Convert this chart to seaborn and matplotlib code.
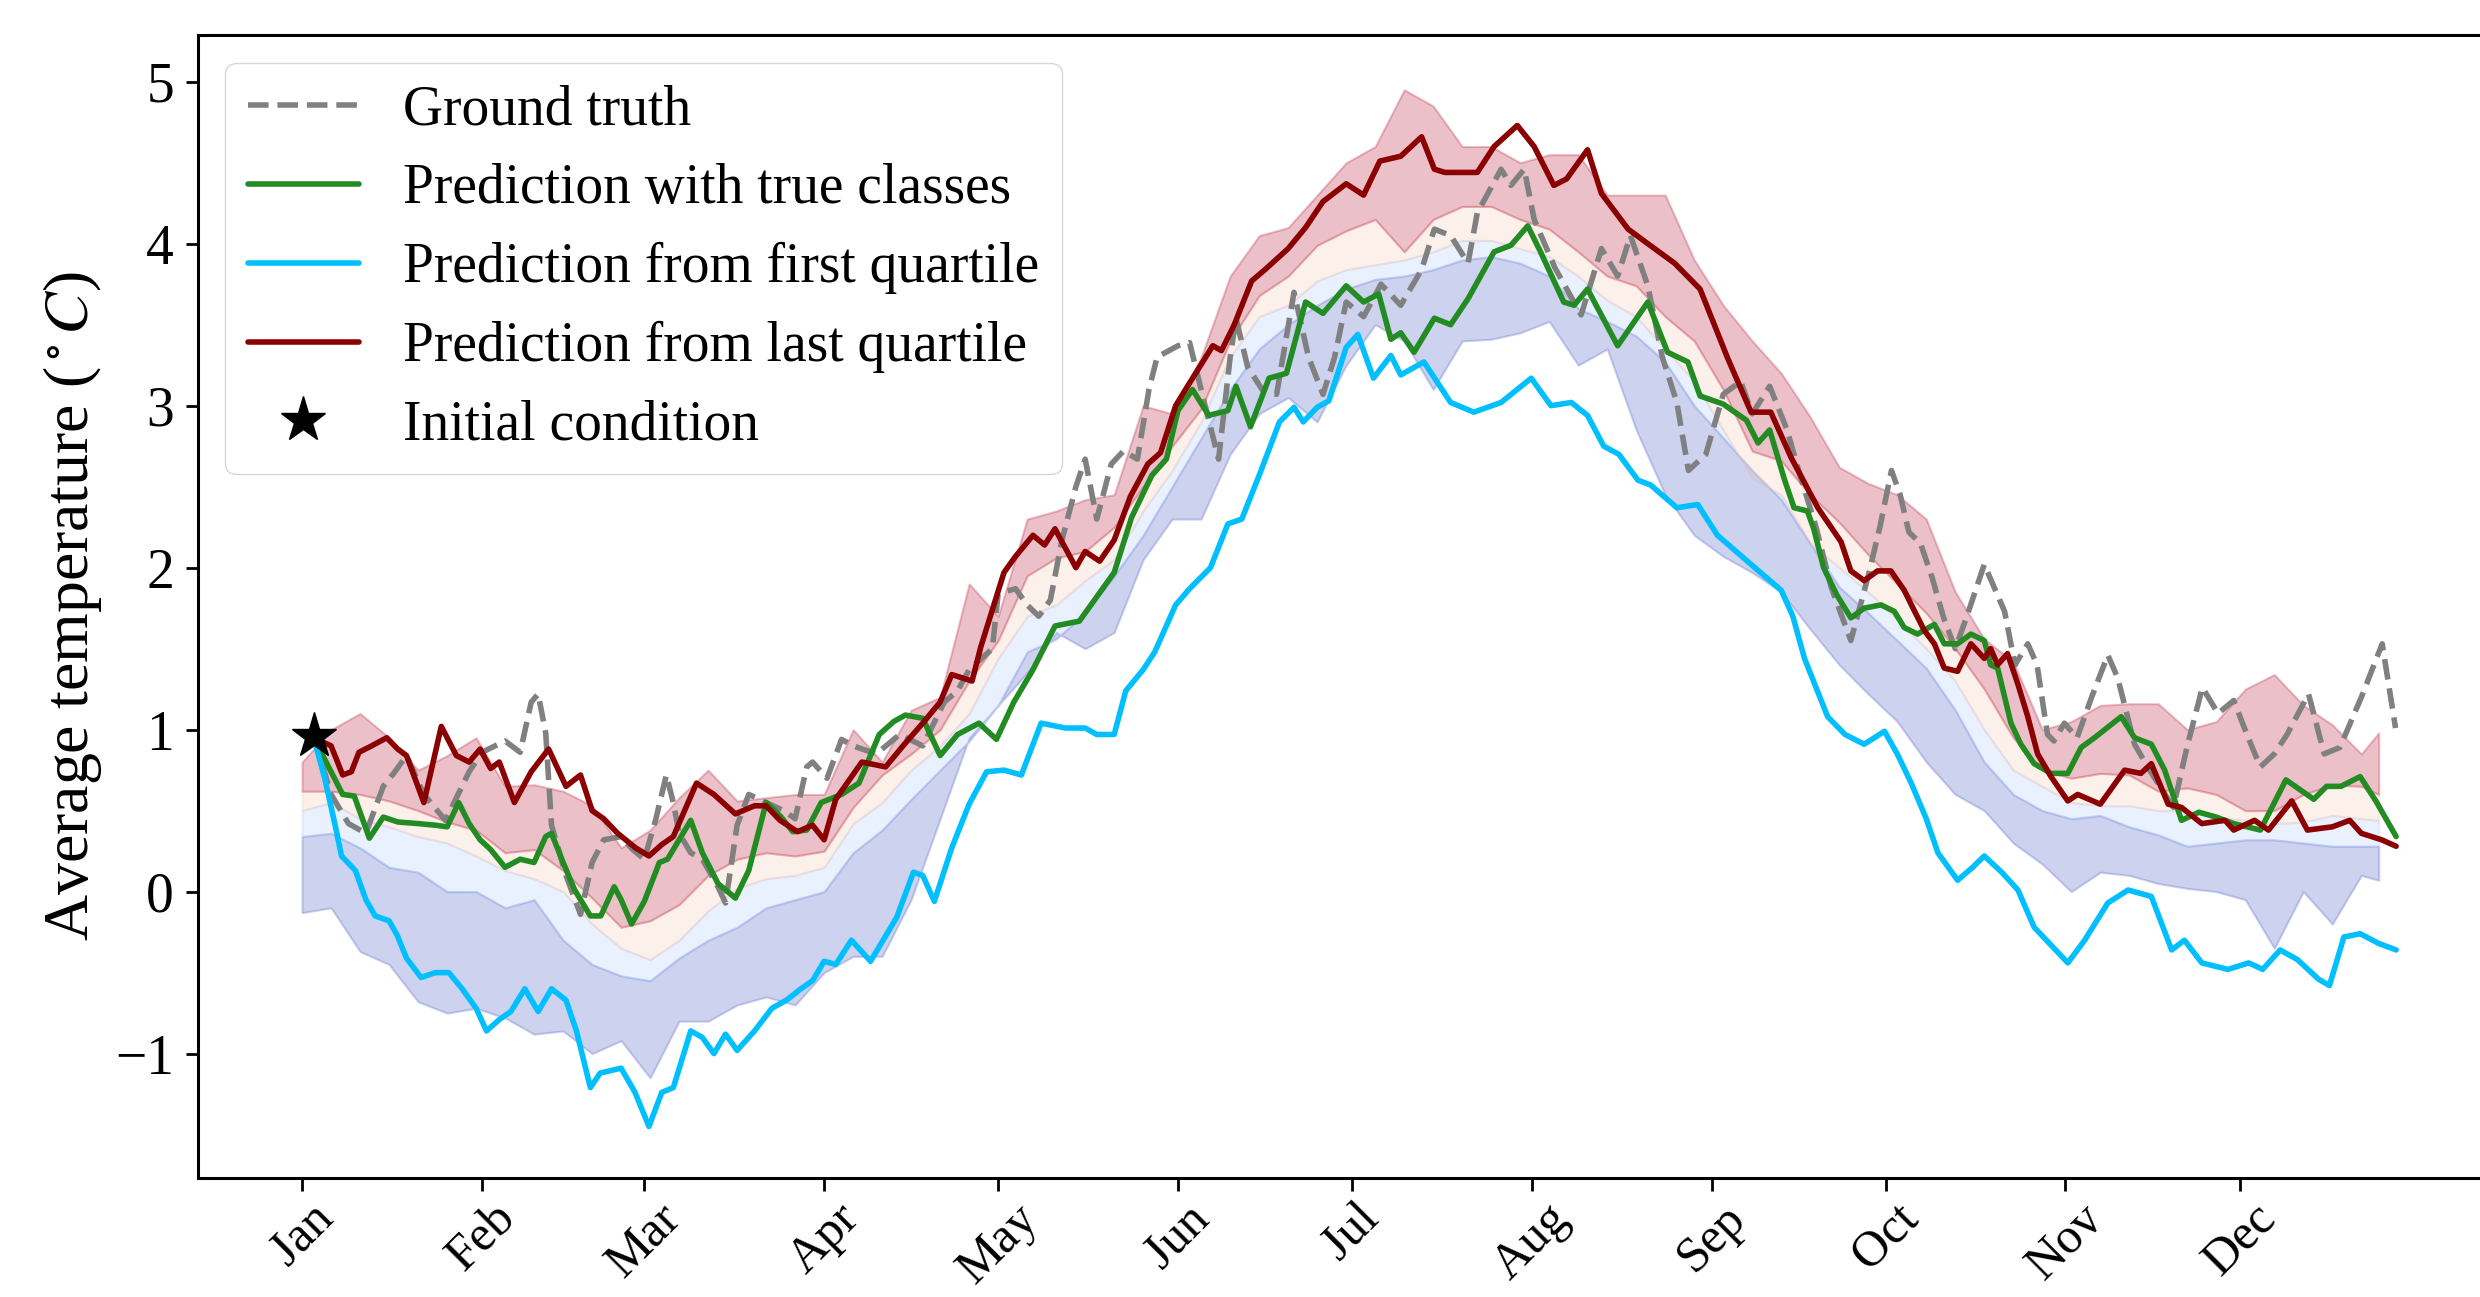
import matplotlib
matplotlib.use("Agg")
import matplotlib.pyplot as plt
import seaborn as sns
import pandas as pd

# ---------------- data ----------------
MONTHS = ["Jan", "Feb", "Mar", "Apr", "May", "Jun",
          "Jul", "Aug", "Sep", "Oct", "Nov", "Dec"]
MONTH_START_DAYS = [0, 31, 59, 90, 120, 151, 181, 212, 243, 273, 304, 334]
Y_TICKS = [-1, 0, 1, 2, 3, 4, 5]

LABELS = ["Ground truth", "Prediction with true classes",
          "Prediction from first quartile", "Prediction from last quartile",
          "Initial condition"]

INIT_DAY = [2]
INIT_VAL = [0.96]

GT_DAYS = [2, 5, 8, 11, 14, 16, 18, 21, 24.7, 28.8, 31, 35, 37.6, 39.5, 40.7, 42, 43, 45.5, 48, 50,
           52, 55, 57, 59, 61, 62.8, 64, 65, 67, 69, 71.7, 73, 75, 77, 80, 83, 85, 87, 88, 90.5,
           93, 95, 99, 103, 107, 110.7, 113, 115, 119, 120, 123, 125, 127, 129, 131, 133.4, 135, 137,
           139.5, 141.6, 144, 146, 147.4, 151, 153, 155.4, 158, 160, 161, 163, 165.5, 168, 171,
           173.5, 176, 178, 180, 183, 186, 189.4, 193, 195.2, 198, 201, 202.6, 206.7, 208.4, 210.7,
           212.4, 216, 220.5, 224, 226.8, 229, 232, 234.5, 237, 239, 242, 245, 248, 250, 253, 256,
           258, 261, 263.6, 267, 270, 272, 274, 275.5, 277, 279, 281, 283, 285, 287, 290, 293.5,
           295.3, 297.5, 299.1, 300.9, 302, 303.8, 306, 308.5, 311.3, 313, 315.9, 318.5, 322.6,
           325, 327.6, 330.3, 333, 335.5, 337.6, 340, 342.2, 345.9, 348.6, 351.3, 355, 358.6, 360.9]
GT_VALS = [0.96, 0.6, 0.42, 0.36, 0.65, 0.74, 0.84, 0.6, 0.44, 0.74, 0.86, 0.93, 0.86, 1.17, 1.22,
           0.98, 0.41, 0.1, -0.14, 0.18, 0.32, 0.34, 0.26, 0.2, 0.45, 0.72, 0.55, 0.36, 0.24, 0.2,
           0.03, -0.07, 0.41, 0.6, 0.55, 0.5, 0.45, 0.77, 0.8, 0.7, 0.94, 0.9, 0.85, 0.97, 0.9,
           1.17, 1.24, 1.37, 1.5, 1.84, 1.87, 1.77, 1.7, 1.8, 2.17, 2.5, 2.67, 2.3, 2.64, 2.72,
           2.67, 3.1, 3.3, 3.37, 3.39, 3.04, 2.67, 3.3, 3.54, 3.24, 3.1, 3.07, 3.7, 3.3, 3.07,
           3.3, 3.64, 3.55, 3.75, 3.62, 3.84, 4.09, 4.05, 3.88, 4.19, 4.46, 4.36, 4.46, 4.15,
           3.85, 3.56, 3.97, 3.8, 4.05, 3.74, 3.3, 3.02, 2.6, 2.7, 3.07, 3.15, 2.95, 3.12, 2.85,
           2.6, 2.25, 1.88, 1.55, 1.95, 2.25, 2.6, 2.45, 2.22, 2.15, 1.94, 1.69, 1.5, 1.7, 2.02,
           1.73, 1.4, 1.53, 1.4, 0.97, 0.93, 1.04, 0.95, 1.2, 1.46, 1.32, 0.91, 0.75, 0.52,
           0.9, 1.26, 1.1, 1.18, 0.95, 0.77, 0.85, 0.97, 1.22, 0.85, 0.89, 1.2, 1.53, 1.01]

TRUE_DAYS = [2, 5, 7, 9, 11.6, 14, 16.5, 20, 23, 25, 27, 28.8, 30.7, 32.5, 35, 37.6, 40, 42, 43, 45,
             47, 49.7, 51.5, 53.8, 55, 56.8, 59, 61.6, 63, 67, 69, 71.7, 74.7, 77, 80, 82.6, 84.6,
             87, 89.5, 93, 96, 99.5, 102, 104, 107, 110, 113, 116.7, 119.7, 122.7, 126, 129.8, 134,
             136, 140, 143, 146.5, 149, 151, 153.5, 156.3, 159.6, 161, 163.5, 166.7, 169.7, 173,
             176, 180, 183, 185.6, 187.7, 189.4, 191.7, 195.2, 198, 201, 205.5, 208.4, 211.3,
             213.5, 217.5, 219.3, 221.6, 226.8, 232, 235.4, 238.9, 241, 245, 249, 251, 253, 255.5,
             257.2, 259.5, 260.6, 262.3, 264.6, 267, 269.3, 272.2, 274.5, 276.2, 278.5, 281.4,
             283.1, 285.4, 287.7, 290, 291.1, 292.3, 294.6, 296.3, 298.6, 301.5, 304.4, 306.7, 309,
             313.6, 315.9, 318.8, 321.1, 324, 327, 330, 333, 337.6, 342, 346.8, 349, 351.5, 354.8,
             357.5, 361]
TRUE_VALS = [0.95, 0.74, 0.6, 0.59, 0.33, 0.46, 0.43, 0.42, 0.41, 0.4, 0.55, 0.42, 0.32, 0.26,
             0.15, 0.2, 0.18, 0.34, 0.36, 0.18, 0.01, -0.15, -0.15, 0.03, -0.05, -0.2, -0.06, 0.18,
             0.2, 0.44, 0.24, 0.05, -0.04, 0.13, 0.55, 0.46, 0.37, 0.38, 0.55, 0.6, 0.67, 0.97,
             1.05, 1.09, 1.07, 0.84, 0.97, 1.04, 0.94, 1.17, 1.37, 1.64, 1.67, 1.77, 1.97, 2.31,
             2.57, 2.67, 2.97, 3.1, 2.94, 2.97, 3.12, 2.87, 3.17, 3.2, 3.64, 3.57, 3.74, 3.64,
             3.69, 3.41, 3.45, 3.33, 3.54, 3.5, 3.66, 3.95, 3.99, 4.11, 3.95, 3.64, 3.62, 3.72,
             3.37, 3.64, 3.33, 3.27, 3.06, 3.01, 2.91, 2.77, 2.85, 2.55, 2.37, 2.35, 2.24, 2.0,
             1.83, 1.69, 1.75, 1.77, 1.73, 1.63, 1.59, 1.65, 1.53, 1.53, 1.59, 1.55, 1.4, 1.38,
             1.04, 0.91, 0.79, 0.73, 0.73, 0.89, 0.95, 1.08, 0.95, 0.91, 0.75, 0.44, 0.49, 0.46,
             0.42, 0.38, 0.69, 0.57, 0.65, 0.65, 0.71, 0.56, 0.34]

FIRST_DAYS = [2, 3.9, 5.7, 6.8, 9.2, 11, 12.6, 15, 16.4, 18, 20.5, 23, 25.3, 27.6, 30, 31.8, 34, 36,
              38.4, 40.7, 43, 45.5, 47.3, 49.7, 51.4, 55, 57.4, 59.8, 62, 64, 67, 69, 71, 73, 75,
              78, 81, 83.5, 86, 88, 90, 92, 94.7, 98, 102.5, 105.4, 107, 109, 112, 115, 118, 121,
              124, 127.4, 131.6, 135, 137, 140, 142, 145, 147, 150.6, 153, 156.6, 159.6, 162, 165,
              168.5, 171, 172.6, 175, 177, 180, 182, 184.7, 187.7, 189.4, 193.4, 198, 202, 206.7,
              211.9, 215.3, 218.8, 221.6, 224.4, 227, 230.3, 232.5, 237, 240.6, 244, 249.8, 255,
              257, 259, 263, 266, 269.3, 272.8, 275, 277.4, 280, 282, 285.4, 288, 290, 293, 295.8,
              298.6, 301.5, 304.4, 307.3, 311.3, 314.8, 318.8, 322.3, 324.5, 327.5, 332, 335.6,
              338, 341, 344, 347.6, 349.5, 352, 354.8, 358, 361]
FIRST_VALS = [0.95, 0.7, 0.41, 0.22, 0.13, -0.05, -0.15, -0.18, -0.27, -0.41, -0.53, -0.5, -0.5,
              -0.6, -0.72, -0.86, -0.79, -0.74, -0.6, -0.74, -0.6, -0.67, -0.86, -1.21, -1.12,
              -1.09, -1.24, -1.45, -1.24, -1.21, -0.86, -0.9, -1.0, -0.88, -0.98, -0.86, -0.72,
              -0.67, -0.6, -0.55, -0.43, -0.45, -0.3, -0.43, -0.16, 0.12, 0.1, -0.06, 0.27, 0.54,
              0.74, 0.75, 0.72, 1.04, 1.01, 1.01, 0.97, 0.97, 1.24, 1.37, 1.48, 1.77, 1.87, 2.0,
              2.27, 2.3, 2.57, 2.9, 2.99, 2.9, 2.99, 3.03, 3.36, 3.44, 3.17, 3.31, 3.19, 3.27,
              3.02, 2.96, 3.02, 3.17, 3.0, 3.02, 2.94, 2.75, 2.7, 2.54, 2.51, 2.37, 2.39, 2.2,
              2.02, 1.86, 1.7, 1.44, 1.08, 0.97, 0.91, 0.99, 0.85, 0.67, 0.45, 0.24, 0.07, 0.15,
              0.22, 0.12, 0.01, -0.22, -0.33, -0.44, -0.3, -0.07, 0.01, -0.03, -0.36, -0.3,
              -0.44, -0.48, -0.44, -0.48, -0.36, -0.42, -0.54, -0.58, -0.28, -0.26, -0.32, -0.36]

LAST_DAYS = [2, 5, 7, 8.5, 9.8, 12, 14.6, 16.5, 18, 21, 24, 26.6, 28.8, 30.7, 32.5, 34, 36.6, 39.5,
             42.5, 45.5, 48, 50, 52, 54.4, 57.5, 59.8, 62, 64, 68, 71, 74.7, 78, 80, 82.4, 85.4,
             88, 90, 92, 96.5, 100.6, 103.6, 107, 110, 112, 115.5, 117, 121, 123, 126, 128, 129.8,
             133.4, 135, 137.5, 140, 142.8, 145.8, 148, 150.6, 153, 157, 158.5, 160.7, 163.7, 166,
             170, 173, 176, 180, 183, 185.8, 189.4, 193, 195.2, 197, 202.6, 205.5, 209.5, 212.4,
             215.8, 218, 221.6, 224, 228.6, 232, 236.6, 241, 245.8, 249.8, 253.2, 256.7, 261.3,
             265.3, 267, 269.3, 271.6, 273.9, 276.2, 278, 279.7, 281.4, 283.1, 285.4, 287.7, 290,
             291.1, 292.3, 294, 295.8, 297.5, 299.2, 301.5, 304.4, 306.1, 310, 314.2, 317, 318.8,
             321.7, 324, 327.5, 331.5, 333, 336.6, 339, 343, 345.7, 350, 353, 355, 358.5, 361]
LAST_VALS = [0.95, 0.9, 0.72, 0.74, 0.86, 0.9, 0.95, 0.88, 0.84, 0.55, 1.02, 0.84, 0.8, 0.88,
             0.76, 0.8, 0.55, 0.74, 0.88, 0.65, 0.72, 0.5, 0.45, 0.36, 0.27, 0.22, 0.29, 0.34,
             0.67, 0.6, 0.48, 0.53, 0.53, 0.44, 0.37, 0.41, 0.32, 0.57, 0.8, 0.77, 0.9, 1.04,
             1.17, 1.34, 1.3, 1.51, 1.97, 2.07, 2.2, 2.14, 2.24, 2.0, 2.1, 2.04, 2.17, 2.44, 2.64,
             2.71, 3.0, 3.14, 3.37, 3.34, 3.5, 3.77, 3.84, 3.97, 4.1, 4.26, 4.37, 4.3, 4.51, 4.54,
             4.66, 4.46, 4.44, 4.44, 4.6, 4.73, 4.6, 4.36, 4.4, 4.58, 4.31, 4.09, 4.0, 3.88, 3.72,
             3.29, 2.96, 2.96, 2.68, 2.37, 2.16, 1.98, 1.92, 1.98, 1.98, 1.86, 1.73, 1.61,
             1.53, 1.38, 1.36, 1.53, 1.44, 1.5, 1.4, 1.47, 1.28, 1.08, 0.85, 0.71, 0.56, 0.6,
             0.54, 0.75, 0.73, 0.79, 0.54, 0.52, 0.42, 0.44, 0.38, 0.44, 0.38, 0.56, 0.38, 0.4,
             0.44, 0.36, 0.32, 0.28]

BAND_DAYS = [0, 5, 10, 15, 20, 25, 30, 35, 40, 45, 50, 55, 60, 65, 70, 75, 80, 85, 90, 95, 100,
             105, 110, 115, 120, 125, 130, 135, 140, 145, 150, 155, 160, 165, 170, 175, 180, 185,
             190, 195, 200, 205, 210, 215, 220, 225, 230, 235, 240, 245, 250, 255, 260, 265, 270,
             275, 280, 285, 290, 295, 300, 305, 310, 315, 320, 325, 330, 335, 340, 345, 350, 355,
             358]
# upper edge of the last-quartile (red) band
BAND_Q4_TOP = [0.8, 1.0, 1.1, 0.95, 0.75, 0.84, 0.95, 0.65, 0.66, 0.62, 0.53, 0.27, 0.38, 0.58,
               0.75, 0.56, 0.58, 0.6, 0.6, 1.0, 0.8, 1.12, 1.2, 1.9, 1.7, 2.3, 2.35, 2.42, 2.45,
               3.0, 2.95, 3.3, 3.8, 4.05, 4.1, 4.3, 4.5, 4.6, 4.95, 4.85, 4.6, 4.6, 4.5,
               4.55, 4.55, 4.3, 4.3, 4.3, 3.9, 3.62, 3.4, 3.2, 2.93, 2.62, 2.52, 2.45, 2.3, 1.85,
               1.56, 1.42, 1.0, 1.05, 1.15, 1.16, 1.16, 1.0, 1.05, 1.25, 1.34, 1.15, 1.03, 0.85,
               0.98]
# border between the red band and the third-quartile (peach) band
BAND_Q34 = [0.62, 0.62, 0.6, 0.56, 0.5, 0.43, 0.38, 0.24, 0.26, 0.13, -0.04, -0.22, -0.18, -0.08,
            0.1, 0.2, 0.24, 0.22, 0.25, 0.52, 0.72, 0.85, 1.0, 1.3, 1.55, 1.95, 2.06, 2.1, 2.25,
            2.5, 2.75, 2.98, 3.4, 3.68, 3.8, 3.99, 4.08, 4.15, 3.95, 4.15, 4.23, 4.23, 4.15, 4.09,
            3.95, 3.8, 3.74, 3.55, 3.4, 3.1, 2.72, 2.66, 2.45, 2.28, 2.08, 1.9, 1.72, 1.5, 1.25,
            0.95, 0.75, 0.7, 0.73, 0.72, 0.62, 0.64, 0.6, 0.5, 0.5, 0.6, 0.66, 0.65, 0.6]
# border between the peach band and the second-quartile (lavender) band
BAND_Q23 = [0.5, 0.55, 0.45, 0.4, 0.34, 0.3, 0.22, 0.13, 0.08, 0.0, -0.2, -0.35, -0.42, -0.3,
            -0.12, 0.02, 0.08, 0.1, 0.15, 0.42, 0.55, 0.75, 0.9, 1.1, 1.44, 1.7, 1.77, 1.92, 2.05,
            2.35, 2.6, 2.9, 3.3, 3.55, 3.62, 3.77, 3.84, 3.87, 3.9, 3.95, 4.02, 4.02, 3.97, 3.92,
            3.8, 3.65, 3.55, 3.35, 3.15, 2.85, 2.55, 2.45, 2.15, 2.0, 1.85, 1.68, 1.5, 1.3, 1.0,
            0.75, 0.65, 0.55, 0.53, 0.53, 0.5, 0.5, 0.46, 0.44, 0.42, 0.43, 0.47, 0.45, 0.44]
# border between the lavender band and the first-quartile (blue) band
BAND_Q12 = [0.34, 0.36, 0.27, 0.15, 0.12, 0.0, 0.0, -0.1, -0.05, -0.3, -0.45, -0.52, -0.55, -0.41,
            -0.3, -0.22, -0.1, -0.05, 0.0, 0.24, 0.38, 0.57, 0.75, 0.93, 1.15, 1.48, 1.56, 1.72,
            1.95, 2.2, 2.5, 2.8, 3.1, 3.35, 3.5, 3.62, 3.72, 3.78, 3.8, 3.84, 3.9, 3.92, 3.88, 3.8,
            3.6, 3.52, 3.43, 3.27, 3.0, 2.8, 2.6, 2.42, 2.15, 1.88, 1.72, 1.55, 1.38, 1.12, 0.8,
            0.6, 0.5, 0.45, 0.47, 0.4, 0.35, 0.28, 0.3, 0.32, 0.32, 0.3, 0.28, 0.28, 0.28]
# lower edge of the first-quartile (blue) band
BAND_Q1_BOT = [-0.13, -0.1, -0.37, -0.45, -0.68, -0.75, -0.72, -0.78, -0.88, -0.86, -1.0, -0.92,
               -1.15, -0.8, -0.8, -0.7, -0.65, -0.7, -0.5, -0.4, -0.4, -0.05, 0.45, 0.95, 1.15,
               1.35, 1.6, 1.5, 1.6, 2.05, 2.3, 2.3, 2.7, 2.95, 3.05, 2.9, 3.25, 3.5, 3.4, 3.1, 3.4,
               3.41, 3.45, 3.52, 3.25, 3.35, 2.85, 2.45, 2.2, 2.07, 1.97, 1.85, 1.62, 1.4, 1.22,
               1.05, 0.8, 0.6, 0.5, 0.3, 0.17, 0.0, 0.12, 0.1, 0.05, 0.02, 0.0, -0.05, -0.35, 0.0,
               -0.2, 0.1, 0.07]

# ---------------- style ----------------
sns.set_theme(style="ticks", rc={
    "axes.edgecolor": "black", "axes.linewidth": 2.2,
    "xtick.color": "black", "ytick.color": "black",
    "xtick.major.size": 9, "ytick.major.size": 9,
    "xtick.major.width": 2.0, "ytick.major.width": 2.0,
    "text.color": "black", "axes.labelcolor": "black",
})
plt.rcParams["font.family"] = ["Liberation Serif", "DejaVu Serif"]
plt.rcParams["mathtext.fontset"] = "stix"
plt.rcParams["axes.unicode_minus"] = True

COL_GT = "gray"
COL_TRUE = "forestgreen"
COL_FIRST = "deepskyblue"
COL_LAST = "darkred"
BAND_COLORS = ["#3b4cc0", "#aac7fd", "#f4c5ad", "#b40426"]  # q1 .. q4

fig = plt.figure(figsize=(24.8, 12.97), dpi=100)
ax = fig.add_axes([0.0797, 0.0915, 0.9356, 0.8817])

bands = pd.DataFrame({"day": BAND_DAYS, "q4_top": BAND_Q4_TOP, "q34": BAND_Q34,
                      "q23": BAND_Q23, "q12": BAND_Q12, "q1_bot": BAND_Q1_BOT})
edges = ["q1_bot", "q12", "q23", "q34", "q4_top"]
for i, col in enumerate(BAND_COLORS):
    ax.fill_between(bands["day"], bands[edges[i]], bands[edges[i + 1]],
                    color=col, alpha=0.25, linewidth=1.5, zorder=1)

lw = 4.0
sns.lineplot(x=GT_DAYS, y=GT_VALS, ax=ax, color=COL_GT, linestyle="--", linewidth=lw,
             label=LABELS[0], zorder=3)
sns.lineplot(x=TRUE_DAYS, y=TRUE_VALS, ax=ax, color=COL_TRUE, linewidth=lw,
             label=LABELS[1], zorder=3)
sns.lineplot(x=FIRST_DAYS, y=FIRST_VALS, ax=ax, color=COL_FIRST, linewidth=lw,
             label=LABELS[2], zorder=3)
sns.lineplot(x=LAST_DAYS, y=LAST_VALS, ax=ax, color=COL_LAST, linewidth=lw,
             label=LABELS[3], zorder=4)
ax.plot(INIT_DAY, INIT_VAL, linestyle="none", marker="*", color="black",
        markersize=34, label=LABELS[4], zorder=6)

ax.set_xlim(-18, 382)
ax.set_ylim(-1.77, 5.29)
ax.set_xticks(MONTH_START_DAYS)
ax.set_xticklabels(MONTHS, rotation=45, fontsize=36)
ax.set_yticks(Y_TICKS)
ax.set_yticklabels([f"{t}" if t >= 0 else f"\u2212{abs(t)}" for t in Y_TICKS], fontsize=40)
ax.tick_params(axis="y", pad=8)
ax.tick_params(axis="x", pad=3)
ax.set_ylabel(r"Average temperature ($^\circ C$)", fontsize=46, labelpad=8)
ax.set_xlabel("")

handles, labels = ax.get_legend_handles_labels()
order = [labels.index(l) for l in LABELS]
ax.legend([handles[i] for i in order], [labels[i] for i in order], loc="upper left",
          fontsize=40, frameon=True, fancybox=True, framealpha=0.8, edgecolor="0.8",
          labelspacing=0.48, handlelength=2.0, borderpad=0.4, handletextpad=0.8)

for s in ["top", "right", "left", "bottom"]:
    ax.spines[s].set_visible(True)

fig.savefig("out.png", dpi=100)
